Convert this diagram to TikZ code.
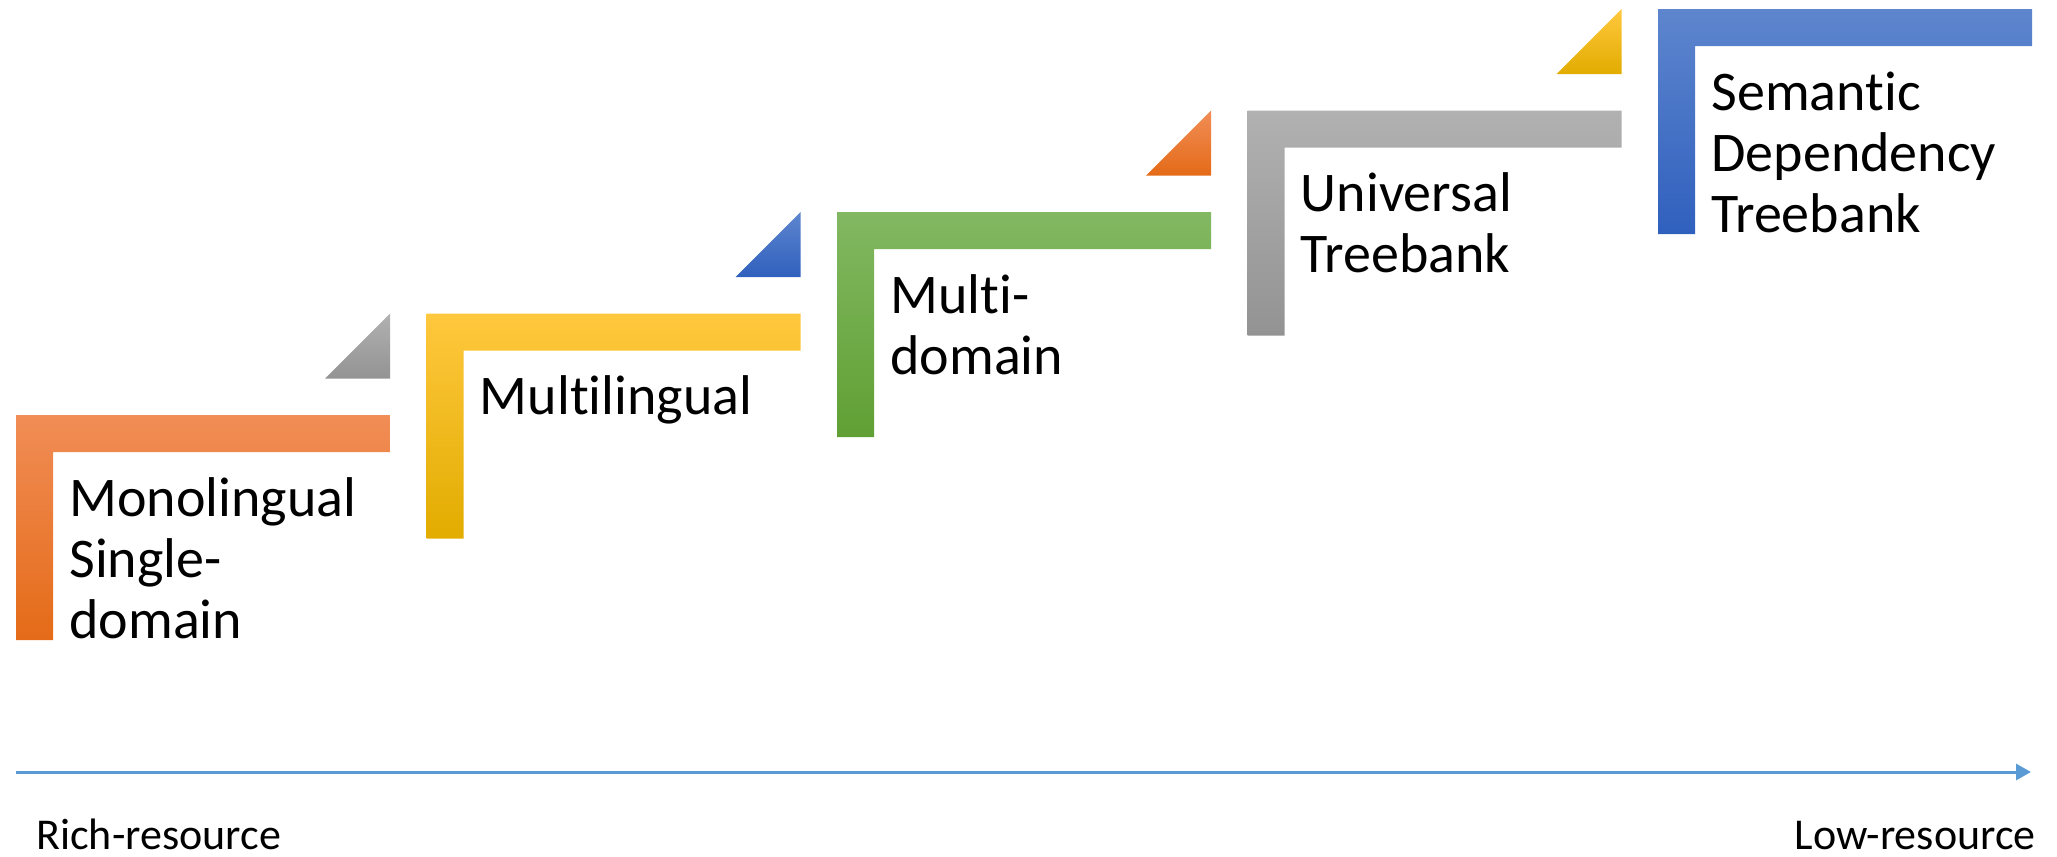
\documentclass[tikz,border=0pt]{standalone}
\usepackage{fontspec}
\setmainfont{Carlito}[Ligatures=NoCommon]
\usetikzlibrary{arrows.meta}

% stair colours: top / middle / bottom of the vertical gradient
\definecolor{orT}{RGB}{241,141,86}
\definecolor{orM}{RGB}{243,126,45}
\definecolor{orB}{RGB}{228,107,24}
\definecolor{yeT}{RGB}{255,200,62}
\definecolor{yeM}{RGB}{255,194,0}
\definecolor{yeB}{RGB}{226,172,0}
\definecolor{grT}{RGB}{130,184,98}
\definecolor{grM}{RGB}{110,175,62}
\definecolor{grB}{RGB}{96,160,51}
\definecolor{gyT}{RGB}{177,177,177}
\definecolor{gyM}{RGB}{164,164,164}
\definecolor{gyB}{RGB}{147,147,147}
\definecolor{blT}{RGB}{94,134,206}
\definecolor{blM}{RGB}{68,114,196}
\definecolor{blB}{RGB}{48,96,190}
\definecolor{axis}{RGB}{91,155,213}

\tikzset{
  orangefill/.style={top color=orT, middle color=orM, bottom color=orB},
  yellowfill/.style={top color=yeT, middle color=yeM, bottom color=yeB},
  greenfill/.style={top color=grT, middle color=grM, bottom color=grB},
  grayfill/.style={top color=gyT, middle color=gyM, bottom color=gyB},
  bluefill/.style={top color=blT, middle color=blM, bottom color=blB},
  steplabel/.style={anchor=base west, inner sep=0pt,
    font=\fontsize{28}{30.5}\selectfont},
  axislabel/.style={inner sep=0pt, font=\fontsize{22}{26}\selectfont},
}

% L-shaped stair: top bar 374 wide, leg 225 tall, both 37 thick
\newcommand\stairshape[2]{%
  \shade[#2] (#1) -- ++(374,0) -- ++(0,37) -- ++(-337,0) -- ++(0,188)
    -- ++(-37,0) -- cycle;}
% small corner triangle at the right end of a stair, below the next one
\newcommand\stairflag[2]{%
  \shade[#2] ([shift={(309,-36.5)}]#1) -- ++(65,0) -- ++(0,-65) -- cycle;}

\begin{document}
\begin{tikzpicture}[x=0.5pt, y=-0.5pt]
\useasboundingbox (0,0) rectangle (2057,857);

\coordinate (s0) at (16,415);
\coordinate (s1) at (426.5,313.5);
\coordinate (s2) at (837,212);
\coordinate (s3) at (1247.5,110.5);
\coordinate (s4) at (1658,9);

\stairshape{s0}{orangefill}
\stairshape{s1}{yellowfill}
\stairshape{s2}{greenfill}
\stairshape{s3}{grayfill}
\stairshape{s4}{bluefill}

\stairflag{s0}{grayfill}
\stairflag{s1}{bluefill}
\stairflag{s2}{orangefill}
\stairflag{s3}{yellowfill}

% labels hang from the baseline of their first line
\node[steplabel] (t0) at ([shift={(53,101)}]s0)
  {\vtop{\hbox{Monolingual}\hbox{Single-}\hbox{domain}}};
\node[steplabel] (t1) at ([shift={(53,101)}]s1)
  {\vtop{\hbox{Multilingual}}};
\node[steplabel] (t2) at ([shift={(53,101)}]s2)
  {\vtop{\hbox{Multi-}\hbox{domain}}};
\node[steplabel] (t3) at ([shift={(53,101)}]s3)
  {\vtop{\hbox{Universal}\hbox{Treebank}}};
\node[steplabel] (t4) at ([shift={(53,101)}]s4)
  {\vtop{\hbox{Semantic}\hbox{Dependency}\hbox{Treebank}}};

% resource axis
\coordinate (axstart) at (16,772);
\coordinate (axend) at (2031,772);
\draw[axis, line width=1.5pt, -{Triangle[length=7.5pt,width=8pt]}] (axstart) -- (axend);

\node[axislabel, anchor=base west] (rich) at (36,849) {Rich-resource};
\node[axislabel, anchor=base east] (low) at (2036,849) {Low-resource};
\end{tikzpicture}
\end{document}
